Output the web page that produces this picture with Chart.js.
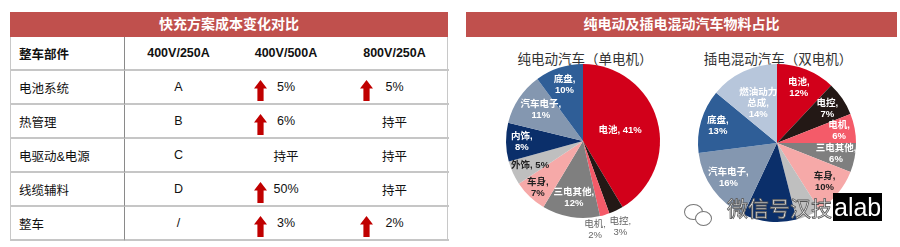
<!DOCTYPE html>
<html>
<head>
<meta charset="utf-8">
<script src="https://cdn.jsdelivr.net/npm/chart.js@4.4.1/dist/chart.umd.min.js"></script>
<style>
  body { margin: 0; width: 900px; height: 247px; background: #fff; position: relative; overflow: hidden;
         font-family: "Liberation Sans", "Noto Sans CJK SC", sans-serif; }
  .bar { position: absolute; height: 25px; background: #c0504d; color: #fff; font-weight: bold;
         font-size: 14px; line-height: 25px; text-align: center; }
  #tbl { position: absolute; left: 10px; top: 37px; width: 438px; display: grid;
         grid-template-columns: 114px 107px 108px 109px; grid-auto-rows: 34px;
         border-left: 1px solid #c8c8c8; border-right: 1px solid #c8c8c8; box-sizing: border-box; }
  #tbl div { position: relative; box-sizing: border-box; border-bottom: 2px solid #c6c6c6;
             font-size: 12.5px; color: #111; display: flex; align-items: center; justify-content: center; }
  #tbl div.first { justify-content: flex-start; padding-left: 8px; border-right: 1px solid #8a8a8a; }
  #tbl div.head { font-weight: bold; font-size: 12.5px; }
  #tbl svg { position: absolute; top: 9px; }
  .sub { position: absolute; top: 50px; font-size: 13.5px; line-height: 16px; color: #333; text-align: center; width: 200px;
         font-family: "Noto Sans CJK SC", sans-serif; }
  .wrap { position: absolute; }
  #wm { position: absolute; left: 727px; top: 195px; font-size: 21px; white-space: nowrap;
        font-family: "Noto Sans CJK SC", sans-serif; color: #eeeeee;
        -webkit-text-stroke: 0.8px #555; line-height: 24px; }
  #wm span { background: #000; color: #fff; -webkit-text-stroke: 0; font-family: "Liberation Sans", sans-serif;
             font-size: 25px; padding: 0 1px; margin-left: 1px; }
  .ic { position: absolute; border: 1.5px solid #777; border-radius: 50%; background: #fff; }
</style>
</head>
<body>
<div class="bar" style="left:10px;top:12px;width:438px;">快充方案成本变化对比</div>
<div id="tbl"></div>

<div class="bar" style="left:466px;top:12px;width:431px;">纯电动及插电混动汽车物料占比</div>
<div class="sub" style="left:485px;">纯电动汽车（单电机）</div>
<div class="sub" style="left:678px;">插电混动汽车（双电机）</div>
<div class="wrap" style="left:483px;top:61px;width:200px;height:186px;"><canvas id="pie1" width="200" height="186"></canvas></div>
<div class="wrap" style="left:695px;top:61px;width:164px;height:164px;"><canvas id="pie2" width="164" height="164"></canvas></div>
<div class="ic" style="left:684px;top:204px;width:17px;height:14px;"></div>
<div class="ic" style="left:695px;top:211px;width:15px;height:13px;"></div>
<div id="wm">微信号汉技<span>alab</span></div>

<script>
// 表格数据
var columnas = ['整车部件', '400V/250A', '400V/500A', '800V/250A'];
var partes = ['电池系统', '热管理', '电驱动&电源', '线缆辅料', '整车'];
var base250 = ['A', 'B', 'C', 'D', '/'];
var cambio500 = ['5%', '6%', '持平', '50%', '3%'];
var cambio800 = ['5%', '持平', '持平', '持平', '2%'];

// 饼图数据
var bevPartes = ['电池', '电控', '电机', '三电其他', '车身', '外饰', '内饰', '汽车电子', '底盘'];
var bevValores = [41, 3, 2, 12, 7, 5, 8, 11, 10];
var phevPartes = ['电池', '电控', '电机', '三电其他', '车身', '外饰', '内饰', '汽车电子', '底盘', '燃油动力总成'];
var phevValores = [12, 7, 6, 6, 10, 5, 11, 16, 13, 14];

var colores = {
  '电池': '#d2001a', '电控': '#231815', '电机': '#f45b69', '三电其他': '#7f7f7f',
  '车身': '#f6a9a8', '外饰': '#bfbfbf', '内饰': '#0b2f6a', '汽车电子': '#8497b0',
  '底盘': '#2f5e97', '燃油动力总成': '#b7c6db'
};
var claros = ['车身', '外饰'];

// construir la tabla
var tbl = document.getElementById('tbl');
function flecha(left) {
  return '<svg width="13" height="21" style="left:' + left + 'px" viewBox="0 0 13 21">' +
    '<polygon points="6.5,0 13,8.5 9.6,8.5 9.6,21 3.4,21 3.4,8.5 0,8.5" fill="#c00000"/></svg>';
}
function celda(txt, cls) {
  var d = document.createElement('div');
  if (cls) d.className = cls;
  d.innerHTML = txt;
  tbl.appendChild(d);
  return d;
}
columnas.forEach(function (c, i) { celda(c, i === 0 ? 'first head' : 'head'); });
for (var i = 0; i < partes.length; i++) {
  celda(partes[i], 'first');
  celda(base250[i]);
  var t3 = cambio500[i] !== '持平';
  celda((t3 ? flecha(22) : '') + '<span>' + cambio500[i] + '</span>');
  var t4 = cambio800[i] !== '持平';
  celda((t4 ? flecha(20) : '') + '<span>' + cambio800[i] + '</span>');
}

// texto de etiquetas
function etiquetas(nombres, valores, especial) {
  return nombres.map(function (n, i) {
    if (especial[n]) return especial[n](valores[i]);
    return [n + ',', valores[i] + '%'];
  });
}

var pluginEtiquetas = {
  id: 'etiquetas',
  afterDatasetsDraw: function (chart) {
    var o = chart.options.plugins.etiquetas;
    var ctx = chart.ctx;
    var meta = chart.getDatasetMeta(0);
    ctx.save();
    ctx.textAlign = 'center';
    ctx.textBaseline = 'middle';
    meta.data.forEach(function (arc, i) {
      if (o.ocultar && o.ocultar.indexOf(i) >= 0) return;
      var p = arc.getProps(['x', 'y', 'startAngle', 'endAngle', 'outerRadius'], true);
      var m = (p.startAngle + p.endAngle) / 2;
      var f = o.radio[i];
      var cx = p.x + Math.cos(m) * p.outerRadius * f + (o.dx ? o.dx[i] : 0);
      var cy = p.y + Math.sin(m) * p.outerRadius * f + (o.dy ? o.dy[i] : 0);
      var nombre = chart.data.labels[i];
      var fuera = f > 1;
      ctx.font = (fuera ? '' : 'bold ') + '9.5px "Liberation Sans", "Noto Sans CJK SC"';
      ctx.fillStyle = fuera ? '#666666' : (claros.indexOf(nombre) >= 0 ? '#222222' : '#ffffff');
      var lineas = o.textos[i];
      var y0 = cy - (lineas.length - 1) * 11 / 2;
      lineas.forEach(function (l, k) { ctx.fillText(l, cx, y0 + k * 11); });
    });
    ctx.restore();
  }
};

function crearPie(id, nombres, valores, opciones, padding) {
  new Chart(document.getElementById(id), {
    type: 'pie',
    data: {
      labels: nombres,
      datasets: [{
        data: valores,
        backgroundColor: nombres.map(function (n) { return colores[n]; }),
        borderWidth: 0
      }]
    },
    options: {
      responsive: false,
      animation: false,
      layout: { padding: padding },
      plugins: {
        legend: { display: false },
        tooltip: { enabled: false },
        etiquetas: opciones
      }
    },
    plugins: [pluginEtiquetas]
  });
}

crearPie('pie1', bevPartes, bevValores, {
  textos: etiquetas(bevPartes, bevValores, {
    '电池': function (v) { return ['电池, ' + v + '%']; },
    '外饰': function (v) { return ['外饰, ' + v + '%']; }
  }),
  radio: [0.5, 1.22, 1.16, 0.75, 0.85, 0.77, 0.82, 0.72, 0.77],
  dx: [0, -3, -13, 0, 0, 1, 2, 4, 0],
  dy: [0, 1, 3, 0, 0, 0, 0, 0, 0]
}, { left: 23, right: 23, top: 3, bottom: 29 });

crearPie('pie2', phevPartes, phevValores, {
  textos: etiquetas(phevPartes, phevValores, {
    '燃油动力总成': function (v) { return ['燃油动力', '总成,', v + '%']; }
  }),
  radio: [0.75, 0.77, 0.8, 0.76, 0.78, 0.77, 0.77, 0.76, 0.78, 0.56],
  ocultar: [5, 6]
}, { left: 3, right: 3, top: 3, bottom: 3 });
</script>
</body>
</html>
